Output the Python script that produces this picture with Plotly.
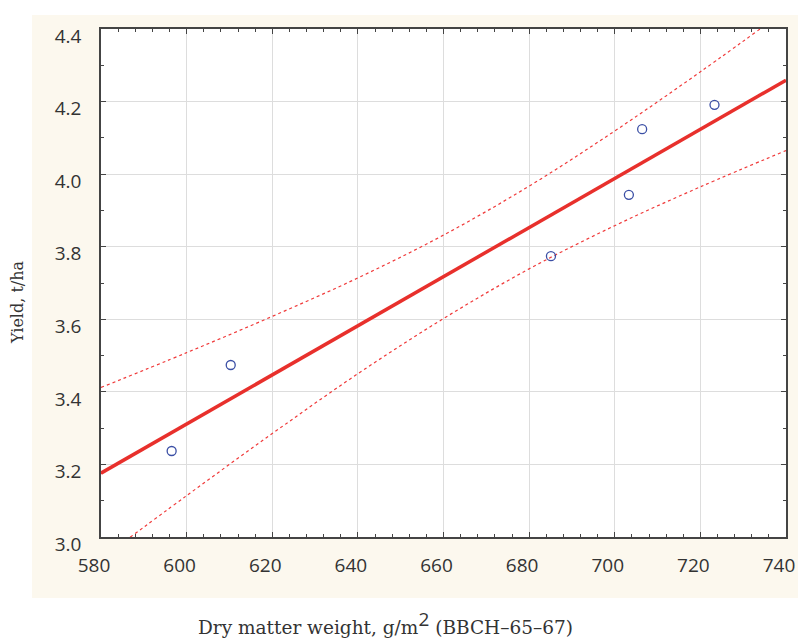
import plotly.graph_objects as go

# Observed points
dry_matter = [596.5, 610.3, 685.1, 703.3, 706.4, 723.3]
yield_tha = [3.237, 3.474, 3.774, 3.943, 4.124, 4.191]

# Regression line (end values)
fit_x = [580, 740]
fit_y = [3.176, 4.259]

# 95% confidence band
band_x = [580, 600, 620, 640, 660, 680, 700, 720, 740]
band_upper = [3.412, 3.508, 3.608, 3.714, 3.832, 3.967, 4.119, 4.282, 4.452]
band_lower = [2.940, 3.114, 3.285, 3.450, 3.602, 3.739, 3.858, 3.965, 4.065]

x_ticks = [580, 600, 620, 640, 660, 680, 700, 720, 740]
y_ticks = [3.0, 3.2, 3.4, 3.6, 3.8, 4.0, 4.2, 4.4]

RED = "#e8302c"
BAND = "#f03a3a"
BLUE = "#3b4fa5"

fig = go.Figure()
fig.add_trace(go.Scatter(x=band_x, y=band_upper, mode="lines", line=dict(color=BAND, width=1.2, dash="dot", shape="spline"), hoverinfo="skip"))
fig.add_trace(go.Scatter(x=band_x, y=band_lower, mode="lines", line=dict(color=BAND, width=1.2, dash="dot", shape="spline"), hoverinfo="skip"))
fig.add_trace(go.Scatter(x=fit_x, y=fit_y, mode="lines", line=dict(color=RED, width=3.5)))
fig.add_trace(go.Scatter(x=dry_matter, y=yield_tha, mode="markers",
                         marker=dict(symbol="circle-open", size=9, color=BLUE, line=dict(width=1.3, color=BLUE))))

# body margin removed by post_script, so figure pixels = page pixels
W, H = 798, 641
L, T = 101, 29
R = W - 786
B = H - 537
pw, ph = W - L - R, H - T - B

def px(xpage):
    return (xpage - L) / pw

def py(ypage):
    return (H - B - ypage) / ph

# cream background panel, then white plot area on top of it
fig.add_shape(type="rect", xref="paper", yref="paper",
              x0=px(32), x1=px(798), y0=py(598), y1=py(15),
              fillcolor="#fcf8ee", line=dict(width=0), layer="below")
fig.add_shape(type="rect", xref="paper", yref="paper",
              x0=0, x1=1, y0=0, y1=1,
              fillcolor="white", line=dict(width=0), layer="below")

axis_common = dict(
    showline=True, linecolor="#444444", linewidth=1.5, mirror="ticks",
    ticks="inside", ticklen=5, tickwidth=1, tickcolor="#444444",
    showgrid=True, gridcolor="#dddddd", gridwidth=1, zeroline=False,
    automargin=False,
    tickfont=dict(family="Open Sans", size=19, color="#333333"),
)

fig.update_xaxes(range=[580, 740], tickvals=x_ticks, ticktext=[str(v) for v in x_ticks],
                 minor=dict(dtick=4, tick0=580, ticks="inside", ticklen=3, tickcolor="#444444", showgrid=False),
                 ticklabelstandoff=10, ticklabelshift=-7, **axis_common)
fig.update_yaxes(range=[3.0, 4.4], tickvals=y_ticks, ticktext=[f"{v:.1f}" for v in y_ticks],
                 minor=dict(dtick=0.1, tick0=3.0, ticks="inside", ticklen=3, tickcolor="#444444", showgrid=False),
                 ticklabelstandoff=14, ticklabelshift=7, **axis_common)

fig.add_annotation(xref="paper", yref="paper", x=px(385), y=py(640), xanchor="center", yanchor="bottom",
                   showarrow=False,
                   text="Dry matter weight, g/m<sup><span style='font-family:Open Sans;font-size:19px'>2</span></sup> (BBCH–65–67)",
                   font=dict(family="DejaVu Serif", size=18.5, color="#333333"))
fig.add_annotation(xref="paper", yref="paper", x=px(18), y=py(302), xanchor="center", yanchor="middle",
                   showarrow=False, textangle=-90, text="Yield, t/ha",
                   font=dict(family="DejaVu Serif", size=16, color="#333333"))

fig.update_layout(width=W, height=H, margin=dict(l=L, r=R, t=T, b=B, autoexpand=False),
                  paper_bgcolor="white", plot_bgcolor="white", showlegend=False)

fig.write_html("out.html", config={"displayModeBar": False},
               post_script="document.body.style.margin='0';document.body.style.overflow='hidden';")
